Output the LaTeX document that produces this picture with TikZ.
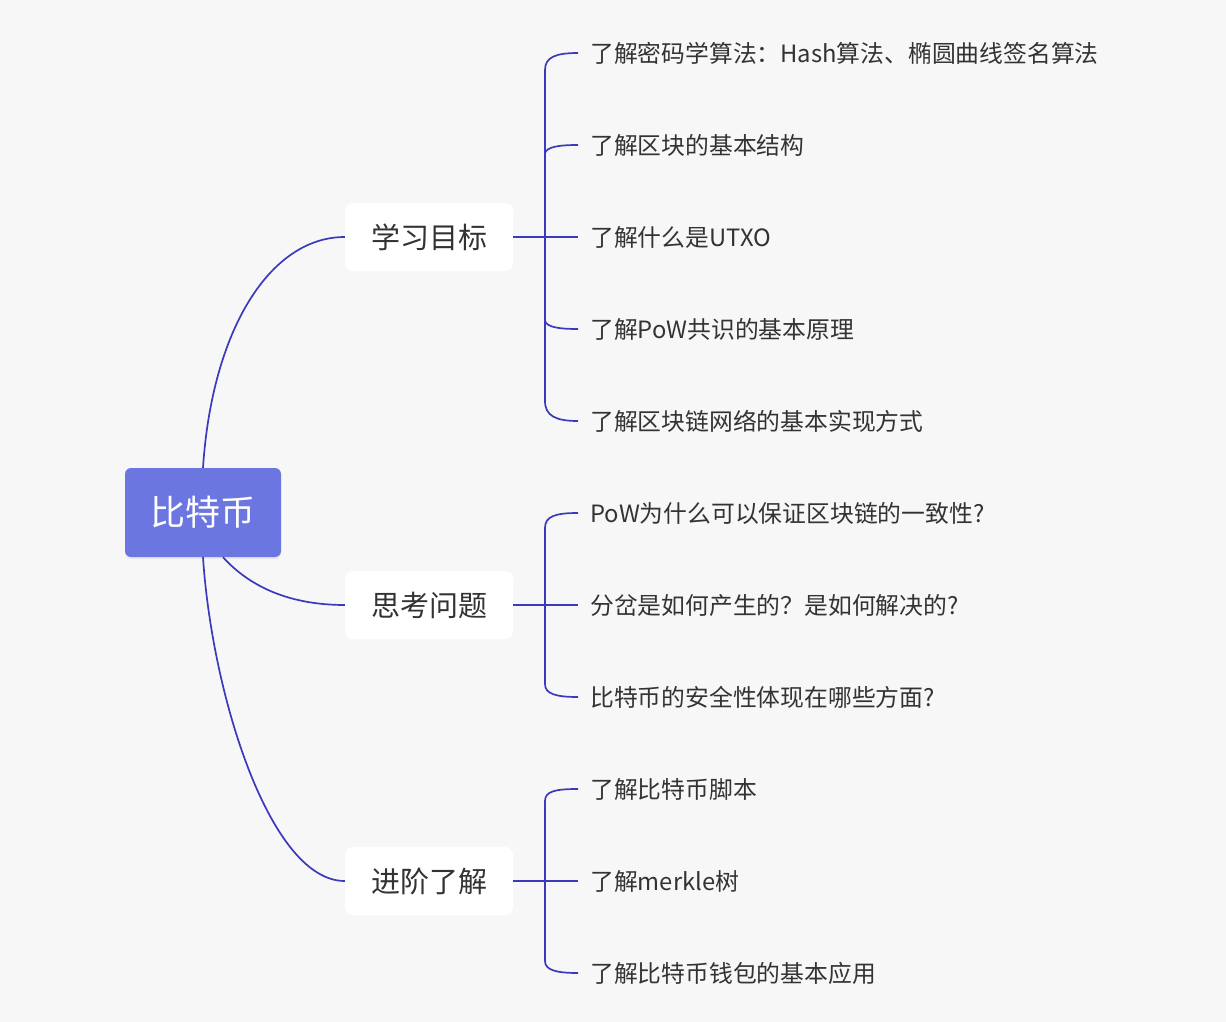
\documentclass[tikz,border=0pt]{standalone}
\usepackage{fontspec}
\setmainfont{Noto Sans CJK SC}
\usetikzlibrary{shadows}
\definecolor{bgc}{HTML}{F7F7F7}
\definecolor{rootc}{HTML}{6C76E0}
\definecolor{linec}{HTML}{3B39BC}
\definecolor{txtc}{HTML}{333333}
\begin{document}
\begin{tikzpicture}[x=1pt,y=-1pt,
  conn/.style={draw=linec, line width=1.7pt},
  rootbox/.style={fill=rootc, rounded corners=6pt, minimum width=156pt, minimum height=89pt, inner sep=0pt,
    text=white, font=\fontsize{35}{35}\selectfont,
    drop shadow={opacity=0.12, shadow xshift=0pt, shadow yshift=-2pt}},
  branchbox/.style={fill=white, rounded corners=8pt, minimum width=168pt, minimum height=68pt, inner sep=0pt,
    text=txtc, font=\fontsize{29}{29}\selectfont},
  leaf/.style={anchor=west, inner sep=0pt, text=txtc, font=\fontsize{23.8}{24}\selectfont}
]
\useasboundingbox[fill=bgc] (0,0) rectangle (1226,1022);

% root and branches
\node[rootbox] (root) at (203,512.5) {比特币};
\node[branchbox] (b1) at (429,237) {学习目标};
\node[branchbox] (b2) at (429,605) {思考问题};
\node[branchbox] (b3) at (429,881) {进阶了解};

% leaves
\node[leaf] (l11) at (590,53) {了解密码学算法：Hash算法、椭圆曲线签名算法};
\node[leaf] (l12) at (590,145) {了解区块的基本结构};
\node[leaf] (l13) at (590,237) {了解什么是UTXO};
\node[leaf] (l14) at (590,329) {了解PoW共识的基本原理};
\node[leaf] (l15) at (590,421) {了解区块链网络的基本实现方式};
\node[leaf] (l21) at (590,513) {PoW为什么可以保证区块链的一致性?};
\node[leaf] (l22) at (590,605) {分岔是如何产生的？是如何解决的?};
\node[leaf] (l23) at (590,697) {比特币的安全性体现在哪些方面?};
\node[leaf] (l31) at (590,789) {了解比特币脚本};
\node[leaf] (l32) at (590,881) {了解merkle树};
\node[leaf] (l33) at (590,973) {了解比特币钱包的基本应用};

% root to branches
\draw[conn] (root.north) .. controls (212,330) and (270,237) .. (b1.west);
\draw[conn] ([xshift=20pt]root.south) .. controls (250,587) and (290,605) .. (b2.west);
\draw[conn] (root.south) .. controls (212,695) and (270,881) .. (b3.west);

% bracket 1
\coordinate (v1t) at (545,70);
\coordinate (v1b) at (545,401);
\coordinate (v1a) at (545,153);
\coordinate (v1c) at (545,321);
\draw[conn] (v1t) -- (v1b);
\draw[conn] (b1.east) -- ([xshift=-12pt]l13.west);
\draw[conn] (v1t) .. controls (545,57) and (556,53) .. ([xshift=-12pt]l11.west);
\draw[conn] (v1a) .. controls (547,147) and (558,145) .. ([xshift=-12pt]l12.west);
\draw[conn] (v1c) .. controls (547,327) and (558,329) .. ([xshift=-12pt]l14.west);
\draw[conn] (v1b) .. controls (545,416) and (556,421) .. ([xshift=-12pt]l15.west);

% bracket 2
\coordinate (v2t) at (545,528);
\coordinate (v2b) at (545,684);
\draw[conn] (v2t) -- (v2b);
\draw[conn] (b2.east) -- ([xshift=-12pt]l22.west);
\draw[conn] (v2t) .. controls (545,516) and (556,513) .. ([xshift=-12pt]l21.west);
\draw[conn] (v2b) .. controls (545,694) and (556,697) .. ([xshift=-12pt]l23.west);

% bracket 3
\coordinate (v3t) at (545,801);
\coordinate (v3b) at (545,961);
\draw[conn] (v3t) -- (v3b);
\draw[conn] (b3.east) -- ([xshift=-12pt]l32.west);
\draw[conn] (v3t) .. controls (545,791) and (556,789) .. ([xshift=-12pt]l31.west);
\draw[conn] (v3b) .. controls (545,970) and (556,973) .. ([xshift=-12pt]l33.west);
\end{tikzpicture}
\end{document}
